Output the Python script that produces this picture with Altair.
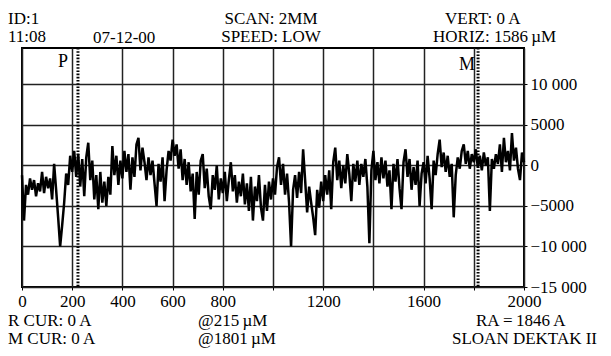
import altair as alt
import pandas as pd

FONT = "Liberation Serif"

# Profile heights (Angstrom), sampled every 8 um along the 2 mm scan
SCAN_STEP_UM = 8
PROFILE_A = [
    -1200, -6800, -2400, -3600, -1600, -3000, -1800, -3800, -2200, -3200, -800, -3400, -1400, -2800, -1600, -4200, 200, -3000, -6400, -10000, -7400,
    -4600, -1000, -2400, 1200, -800, 1800, -1400, 1400, -2600, 800, -3800, 1000, 2800, -1800, 600, -4200, -1200, -5400, -800, -4600,
    -2000, -5000, -1400, -3600, 2400, -1200, 1200, -2400, 600, -1600, 1800, -800, 1400, -3000, 1000, -1400, 2600, 3400, -600, 2200,
    400, -1800, 1000, -1200, 600, -2200, -5000, 200, -2000, 1000, -4400, -600, 1800, 600, 3200, 1200, 2600, -400, 2000, -1800,
    800, -2400, 400, -3200, -1000, -6600, -800, -3600, 600, 1400, -2800, -400, -3800, -5400, -1200, -3000, 0, -4200, -1600, -3400,
    -800, -4400, -1800, 400, -3200, -1200, -4600, -2000, -3800, -1000, -4800, -2200, -5600, -1400, -6800, -2600, -4400, -1200, -5200, -6800,
    -2400, -5600, -2000, -4200, -1600, -3600, -200, 1000, -2400, 200, -3600, -1000, -4600, -10000, -3000, -1200, -4000, -800, -3400, 2000,
    -1800, -5800, -2600, -4600, -6400, -8600, -3000, -5200, -2000, -4400, -1200, -3600, -600, -5400, 400, 2200, -1800, 600, -2800, 0,
    -2200, 1400, -1000, -4400, 200, -2000, 600, -2400, 200, -1400, 800, -2600, -9600, -600, 1800, -1800, 400, -2200, 1000, -1600,
    600, -2600, -600, -5400, 200, -2000, 800, -2800, -5400, 400, 2000, -1400, 800, -3000, -200, -2400, 600, -5000, -1000, 400,
    -2200, 1200, -1600, -5400, 600, -1200, 1400, 3200, -200, 1600, -800, 1200, -1400, 200, -6400, -1200, 1000, -400, 1800, 2600,
    200, 1800, -400, 1400, 400, 2000, -200, 1200, -600, 1600, 0, 1000, -5600, 800, -400, 1400, 200, 2600, -800, 3400,
    400, 1800, -600, 4000, 600, 2200, -400, -1800, 1600, 400,
]
SCAN_UM = [i * SCAN_STEP_UM for i in range(len(PROFILE_A))]

X_GRID = [0, 200, 400, 600, 800, 1000, 1200, 1400, 1600, 1800, 2000]
X_LABELED = [0, 200, 400, 600, 800, 1200, 1600, 2000]
Y_TICKS = [10000, 5000, 0, -5000, -10000, -15000]
Y_LABELS = ["10 000", "5000", "0", "\u22125000", "\u221210 000", "\u221215 000"]

CURSOR_NAMES = ["P", "M"]
CURSOR_UM = [223, 1817]

HEADER = [
    ("ID:1", -14, -24, "left"),
    ("11:08", -14, -6, "left"),
    ("07-12-00", 71, -5, "left"),
    ("SCAN: 2MM", 249, -24, "center"),
    ("SPEED: LOW", 249, -6, "center"),
    ("VERT: 0 A", 423, -24, "left"),
    ("HORIZ: 1586\u2009\u00b5M", 411, -6, "left"),
    ("R CUR: 0 A", -14, 278, "left"),
    ("M CUR: 0 A", -14, 296, "left"),
    ("@215\u2009\u00b5M", 176, 278, "left"),
    ("@1801\u2009\u00b5M", 176, 296, "left"),
    ("RA\u2009=\u20091846 A", 454, 278, "left"),
    ("SLOAN DEKTAK II", 430, 296, "left"),
]

df = pd.DataFrame({"um": SCAN_UM, "a": PROFILE_A})
cur = pd.DataFrame({"um": CURSOR_UM, "name": CURSOR_NAMES})

x_label_expr = f"indexof({X_LABELED}, datum.value) >= 0 ? datum.label : ''"
y_label_expr = " : ".join(
    f"datum.value == {v} ? '{l}'" for v, l in zip(Y_TICKS, Y_LABELS)
) + " : ''"

xs = alt.Scale(domain=[0, 2000], nice=False, zero=False)
ys = alt.Scale(domain=[-15000, 14500], nice=False, zero=False)

trace = alt.Chart(df).mark_line(color="black", strokeWidth=2.5).encode(
    x=alt.X("um:Q", scale=xs, title=None,
            axis=alt.Axis(values=X_GRID, labelExpr=x_label_expr, format="d",
                          tickSize=3, labelPadding=3, labelFlush=False)),
    y=alt.Y("a:Q", scale=ys, title=None,
            axis=alt.Axis(orient="right", values=Y_TICKS, labelExpr=y_label_expr,
                          tickSize=3, labelPadding=3, labelBaseline="middle")),
)

cursor_lines = alt.Chart(cur).mark_rule(
    color="black", strokeWidth=3, strokeDash=[1.6, 1.6]
).encode(x=alt.X("um:Q", scale=xs))

p_label = alt.Chart(cur).transform_filter("datum.name == 'P'").mark_text(
    align="right", baseline="alphabetic", font=FONT, fontSize=18, dx=-10, color="black"
).encode(x=alt.X("um:Q", scale=xs), y=alt.value(19), text="name:N")

m_label = alt.Chart(cur).transform_filter("datum.name == 'M'").mark_text(
    align="right", baseline="alphabetic", font=FONT, fontSize=18, dx=-3, color="black"
).encode(x=alt.X("um:Q", scale=xs), y=alt.value(22), text="name:N")


def note(text, px, py, align):
    return alt.Chart(pd.DataFrame({"t": [text]})).mark_text(
        align=align, baseline="alphabetic", font=FONT, fontSize=17, color="black"
    ).encode(x=alt.value(px), y=alt.value(py), text="t:N")


notes = [note(*h) for h in HEADER]

chart = alt.layer(trace, cursor_lines, p_label, m_label, *notes).properties(
    width=502,
    height=239,
    autosize=alt.AutoSizeParams(type="none"),
    padding={"left": 14, "top": 40, "right": 79, "bottom": 61},
).configure_view(
    stroke="black", strokeWidth=2
).configure_axis(
    grid=True, gridColor="#222222", gridWidth=1.5, domain=False,
    tickColor="black", labelFont=FONT, labelFontSize=17, labelColor="black",
)

chart.save("out.html", embed_options={"renderer": "svg", "actions": False})
